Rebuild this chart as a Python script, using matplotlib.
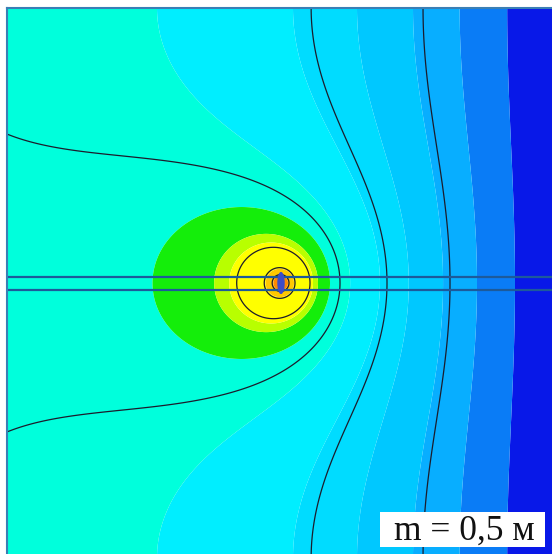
import numpy as np
import matplotlib
matplotlib.use("Agg")
import matplotlib.pyplot as plt
from matplotlib.patches import Rectangle, Ellipse

# ---------------- field model (normalised domain, source at centre) ----------
source_strength = 1.0
background_slope = 0.06
channel_halfwidth = 1.0
fixed_boundary_x = 1.0

# points (reference pixels) through which each colour-band boundary passes
band_anchor_px = [(515, 283), (477, 283), (413, 8), (357, 8), (293, 8), (157, 8),
                  (330, 283), (318, 283), (313, 283), (294, 283), (288, 283), (284, 283)]
band_colors = ['#0818E8', '#0A7CF6', '#08AEFF', '#00C8FF', '#00DCFF', '#00EEFF',
               '#00FFDC', '#14EE0A', '#B8FF00', '#FFFF00', '#FFC800', '#FF8A00', '#E82010']
# points through which each black isoline passes
line_anchor_px = [(289, 283), (295, 283), (310, 283), (340, 283), (387, 283), (450, 283)]
pipe_y_px = [277, 290]
label_text = "m = 0,5 м"

W, H = 552, 554
CX, CY, SX, SY = 281.0, 283.0, 274.0, 275.0


def px_to_xy(p):
    return (p[0] - CX) / SX, (CY - p[1]) / SY


def green(x, y):
    h = channel_halfwidth
    return -np.log(np.sinh(np.pi * x / (2 * h)) ** 2 + np.sin(np.pi * y / (2 * h)) ** 2)


def field(x, y):
    img_x = 2 * fixed_boundary_x
    return (-background_slope * x
            + source_strength * (green(x, y) - green(x - img_x, y)))


band_levels = np.sort([field(*px_to_xy(p)) for p in band_anchor_px])
line_levels = np.sort([field(*px_to_xy(p)) for p in line_anchor_px])

xs = np.linspace(-1.0, 1.0, 1001)
ys = np.linspace(-1.0, 1.0, 1001)
X, Y = np.meshgrid(xs, ys)
V = field(X, Y)

fig = plt.figure(figsize=(W / 100, H / 100), dpi=100)
fig.patch.set_facecolor('white')
ax = fig.add_axes([7 / W, (H - 558) / H, 548 / W, 550 / H])
levels = np.concatenate([[V.min() - 1], band_levels, [V.max() + 1]])
ax.contourf(X, Y, V, levels=levels, colors=band_colors, antialiased=True)
ax.contour(X, Y, V, levels=line_levels, colors='#1c1c2c', linewidths=0.9)

for py in pipe_y_px:
    ax.axhline((CY - py) / SY, color='#1d5a9a', lw=1.6)
ax.add_patch(Ellipse((0, 0), 0.022, 0.075, color='#3c4cc8', zorder=5))

ax.set_xlim(-1, 1)
ax.set_ylim(-1, 1)
ax.set_xticks([])
ax.set_yticks([])
for side in ['right', 'bottom']:
    ax.spines[side].set_visible(False)
for side in ['left', 'top']:
    ax.spines[side].set_color('#3a7fb5')
    ax.spines[side].set_linewidth(1.5)

# label box (figure pixel coordinates)
fig.patches.append(Rectangle((380 / W, (H - 547) / H), 165 / W, 35 / H,
                             transform=fig.transFigure, facecolor='white',
                             edgecolor='none', zorder=10))
fig.text(464 / W, (H - 531) / H, label_text, family='Liberation Serif',
         fontsize=25.5, ha='center', va='center', zorder=11, color='#111111')

fig.savefig('out.png', dpi=100)
